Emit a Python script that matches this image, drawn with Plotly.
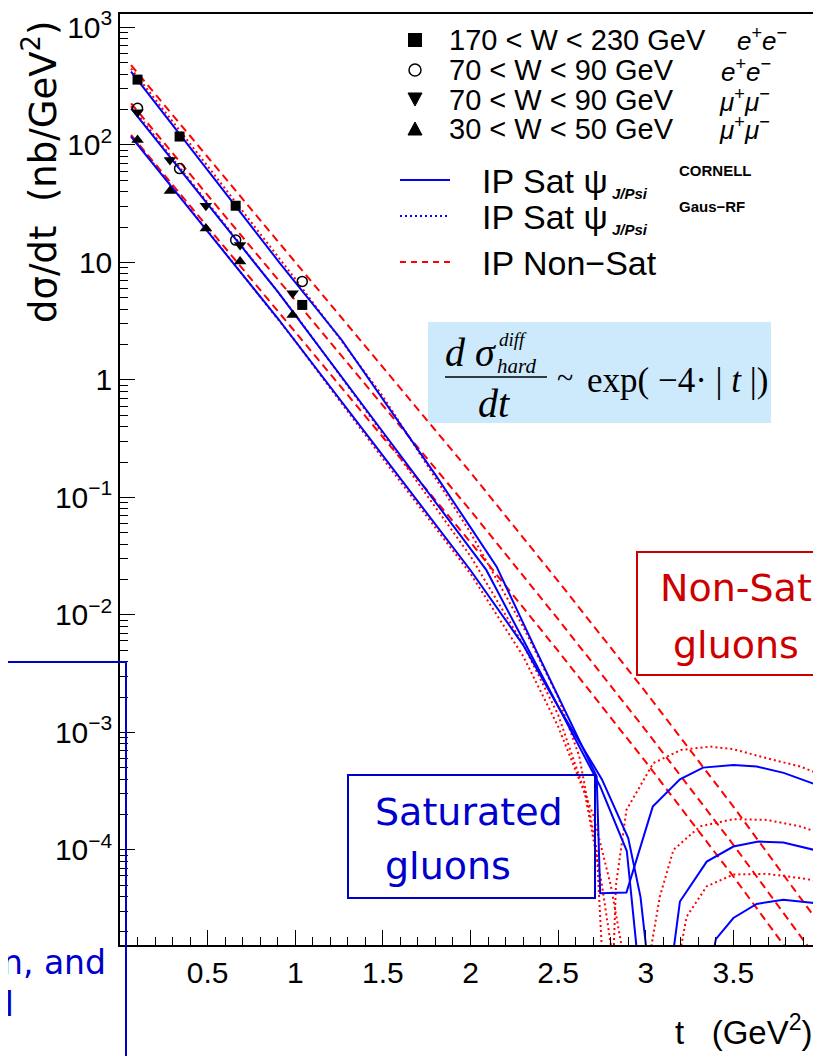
import plotly.graph_objects as go

# ---------------- data ----------------
# measured points (t in GeV^2, dsigma/dt in nb/GeV^2)
t_sq = [0.1, 0.34, 0.66, 1.04]
y_sq = [360, 118, 30.4, 4.35]
t_circ = [0.1, 0.34, 0.66, 1.04]
y_circ = [205, 63, 15.5, 6.9]
t_dtri = [0.1, 0.285, 0.49, 0.685, 0.985]
y_dtri = [190, 74.5, 30.4, 14.1, 5.47]
t_utri = [0.1, 0.285, 0.49, 0.685, 0.985]
y_utri = [110, 40.6, 19.5, 10.2, 3.57]

# IP Non-Sat (red dashed)
t_ns = [0.063, 0.5, 1.0, 1.5, 2.0, 2.5, 3.0, 3.5, 4.0]
y_ns_hi = [478.6, 79.07, 10.07, 1.282, 0.1633, 0.01941, 0.002203, 0.0002333, 0.00002249]
y_ns_mid = [226.5, 37.41, 4.764, 0.6067, 0.07727, 0.009183, 0.001042, 0.0001104, 0.00001064]
y_ns_lo = [121.6, 20.09, 2.559, 0.3258, 0.04150, 0.004932, 0.0005598, 0.00005929, 0.000005715]

# IP Sat, CORNELL wave function (blue solid)
t_cor_hi = [0.063, 0.5, 0.913, 1.265, 1.5, 1.807, 2.0, 2.149, 2.368, 2.48, 2.72, 2.74, 2.89,
            3.04, 3.195, 3.327, 3.5, 3.633, 3.787, 4.0]
y_cor_hi = [420.7, 61.66, 9.840, 2.188, 0.6855, 0.1503, 0.05559, 0.02576, 0.005212, 0.002344,
            0.0004207, 0.00004266, 0.00004335, 0.0002333, 0.0003981, 0.0005012, 0.0005284,
            0.0005117, 0.0004519, 0.0003467]
t_cor_mid = [0.063, 0.5, 0.9, 1.5, 2.0, 2.09, 2.3, 2.48, 2.74, 2.892, 3.04, 3.195, 3.348, 3.5,
             3.643, 3.785, 4.0]
y_cor_mid = [205.1, 31.41, 5.636, 0.3606, 0.03648, 0.02415, 0.006166, 0.001905, 0.0003467,
             0.00009772, 6.31e-7, 0.00003631, 0.00007943, 0.0001067, 0.0001175, 0.0001153,
             0.00009683]
t_cor_lo = [0.063, 0.5, 0.9, 1.5, 2.0, 2.3, 2.5, 2.75, 2.9, 2.97, 3.15, 3.4, 3.5, 3.633, 3.785,
            3.947, 4.0]
y_cor_lo = [117.8, 18.32, 3.350, 0.2265, 0.02399, 0.005559, 0.00166, 0.0003981, 0.0001259,
            0.00003981, 1.585e-7, 0.00001738, 0.0000263, 0.00003467, 0.00003758, 0.00003548,
            0.00003467]

# IP Sat, Gaus-RF wave function (dotted)
t_gau_hi = [0.063, 0.5, 1.0, 1.5, 2.0, 2.3, 2.5, 2.62, 2.72, 2.79, 2.83, 2.89, 3.043, 3.2,
            3.367, 3.5, 3.69, 3.88, 4.0]
y_gau_hi = [446.7, 66.07, 7.244, 0.7244, 0.05012, 0.007943, 0.001995, 0.000631, 0.0001, 1e-6,
            0.00005012, 0.0002188, 0.000547, 0.0007079, 0.0007568, 0.0007194, 0.0006026,
            0.0005129, 0.0004365]
t_gau_mid = [0.063, 0.5, 1.0, 1.5, 2.0, 2.3, 2.5, 2.65, 2.75, 2.85, 2.93, 3.0, 3.08, 3.158,
             3.31, 3.5, 3.69, 3.88, 4.0]
y_gau_mid = [213.8, 32.36, 3.631, 0.3467, 0.03162, 0.005623, 0.001413, 0.0003162, 0.00005012,
             0.000005012, 3.162e-7, 0.000007943, 0.00003981, 0.0001, 0.0001585, 0.0001824,
             0.0001799, 0.0001585, 0.000138]
t_gau_lo = [0.063, 0.5, 1.0, 1.5, 2.0, 2.3, 2.5, 2.7, 2.8, 2.92, 3.05, 3.18, 3.233, 3.348, 3.5,
            3.69, 3.88, 4.0]
y_gau_lo = [120.2, 18.62, 2.138, 0.2138, 0.02239, 0.004467, 0.001122, 0.0001995, 0.00005012,
            0.000005012, 3.162e-7, 0.00001, 0.00002692, 0.00004898, 0.00006166, 0.00006252,
            0.00005754, 0.0000537]

x_tick_vals = [0.5, 1, 1.5, 2, 2.5, 3, 3.5, 4]
x_tick_text = ["0.5", "1", "1.5", "2", "2.5", "3", "3.5", "4"]
y_tick_vals = [1e-4, 1e-3, 1e-2, 1e-1, 1, 10, 100, 1000]
y_tick_text = ["10<sup>−4</sup>", "10<sup>−3</sup>", "10<sup>−2</sup>", "10<sup>−1</sup>",
               "1", "10", "10<sup>2</sup>", "10<sup>3</sup>"]

# ---------------- figure ----------------
# the page body has an 8px margin: the figure is made 8px smaller and all
# positions below are given in window pixels
OFF = 8
WIN_W, WIN_H = 821, 1056
L, R, T, B = 120, 821, 14, 945   # plot frame in window pixels


def px(x):
    return (x - L) / (R - L)


def py(y):
    return (B - y) / (B - T)


BLUE = "#0000ff"
RED = "#ff0000"
fig = go.Figure()

for yy in (y_ns_hi, y_ns_mid, y_ns_lo):
    fig.add_trace(go.Scatter(x=t_ns, y=yy, mode="lines",
                             line=dict(color=RED, width=2, dash="8px,5px")))
for tt, yy in ((t_gau_hi, y_gau_hi), (t_gau_mid, y_gau_mid), (t_gau_lo, y_gau_lo)):
    fig.add_trace(go.Scatter(x=tt, y=yy, mode="lines",
                             line=dict(color=RED, width=2, dash="2px,3px")))
for tt, yy in ((t_cor_hi, y_cor_hi), (t_cor_mid, y_cor_mid), (t_cor_lo, y_cor_lo)):
    fig.add_trace(go.Scatter(x=tt, y=yy, mode="lines",
                             line=dict(color=BLUE, width=2)))

fig.add_trace(go.Scatter(x=t_sq, y=y_sq, mode="markers",
                         marker=dict(symbol="square", size=10, color="black")))
fig.add_trace(go.Scatter(x=t_circ, y=y_circ, mode="markers",
                         marker=dict(symbol="circle-open", size=10, color="black",
                                     line=dict(width=1.5, color="black"))))
fig.add_trace(go.Scatter(x=t_dtri, y=y_dtri, mode="markers",
                         marker=dict(symbol="triangle-down", size=11, color="black")))
fig.add_trace(go.Scatter(x=t_utri, y=y_utri, mode="markers",
                         marker=dict(symbol="triangle-up", size=11, color="black")))

fig.update_layout(
    width=WIN_W - OFF, height=WIN_H - OFF,
    margin=dict(l=L - OFF, r=WIN_W - R, t=T - OFF, b=WIN_H - B, autoexpand=False),
    plot_bgcolor="white", paper_bgcolor="white",
    showlegend=False,
    font=dict(family="Liberation Sans", color="black"),
    xaxis=dict(range=[0, 4.0], showgrid=False, zeroline=False, showline=True,
               linecolor="black", linewidth=1.5, mirror=True,
               ticks="inside", ticklen=15, tickwidth=1.2, tickcolor="black",
               tickvals=x_tick_vals, ticktext=x_tick_text, ticklabeloverflow="allow",
               tickfont=dict(size=30, family="Liberation Sans"),
               minor=dict(tickmode="linear", tick0=0, dtick=0.1, ticks="inside",
                          ticklen=8, tickwidth=1, tickcolor="black")),
    yaxis=dict(type="log", range=[-4.81, 3.115], showgrid=False, zeroline=False,
               showline=True, linecolor="black", linewidth=1.5, mirror=True,
               ticks="inside", ticklen=15, tickwidth=1.2, tickcolor="black",
               tickvals=y_tick_vals, ticktext=y_tick_text, ticklabeloverflow="allow",
               tickfont=dict(size=30, family="Liberation Sans"),
               minor=dict(dtick="D1", ticks="inside",
                          ticklen=8, tickwidth=1, tickcolor="black")),
)

shapes = []
annots = []


def text(x, y, s, size, color="black", xanchor="left", family="Liberation Sans",
         angle=0):
    annots.append(dict(x=px(x), y=py(y), xref="paper", yref="paper", text=s,
                       showarrow=False, xanchor=xanchor, yanchor="middle",
                       textangle=angle,
                       font=dict(size=size, color=color, family=family)))


def rect(x0, y0, x1, y1, line=None, fill=None, width=2, layer="above"):
    shapes.append(dict(type="rect", xref="paper", yref="paper",
                       x0=px(x0), x1=px(x1), y0=py(y1), y1=py(y0),
                       line=dict(color=line or "rgba(0,0,0,0)", width=width if line else 0),
                       fillcolor=fill or "rgba(0,0,0,0)", layer=layer))


def hline(x0, x1, y, color, dash="solid", width=2):
    shapes.append(dict(type="line", xref="paper", yref="paper",
                       x0=px(x0), x1=px(x1), y0=py(y), y1=py(y),
                       line=dict(color=color, width=width, dash=dash)))


def path(pts, fill):
    d = "M " + " L ".join(f"{px(a):.5f},{py(b):.5f}" for a, b in pts) + " Z"
    shapes.append(dict(type="path", xref="paper", yref="paper", path=d,
                       fillcolor=fill, line=dict(color="black", width=1)))


# axis titles
text(40, 172, "dσ/dt  (nb/GeV<sup>2</sup>)", 37, angle=-90, xanchor="center",
     family="DejaVu Sans")
text(815, 1030, "t&nbsp;&nbsp;&nbsp;(GeV<sup>2</sup>)", 33, xanchor="right")

# legend (markers)
rect(408, 33, 422, 47, fill="black", width=0)
shapes.append(dict(type="circle", xref="paper", yref="paper",
                   x0=px(409), x1=px(421), y0=py(76), y1=py(64),
                   line=dict(color="black", width=1.5)))
path([(408, 93), (422, 93), (415, 106)], "black")
path([(408, 135), (422, 135), (415, 122)], "black")
text(447, 40, "170 &lt; W &lt; 230 GeV", 29)
text(447, 70, "70 &lt; W &lt; 90 GeV", 29)
text(447, 100, "70 &lt; W &lt; 90 GeV", 29)
text(447, 129, "30 &lt; W &lt; 50 GeV", 29)
text(735, 40, "<i>e</i><sup>+</sup><i>e</i><sup>−</sup>", 26)
text(719, 70, "<i>e</i><sup>+</sup><i>e</i><sup>−</sup>", 26)
text(717, 100, "<i>μ</i><sup>+</sup><i>μ</i><sup>−</sup>", 26)
text(717, 129, "<i>μ</i><sup>+</sup><i>μ</i><sup>−</sup>", 26)

# legend (lines)
hline(400, 450, 180, BLUE)
hline(400, 450, 216, BLUE, dash="2px,3px")
hline(400, 450, 262, RED, dash="6px,5px")
text(480, 181, "IP Sat ψ", 34)
text(610, 193, "<b><i>J/Psi</i></b>", 15)
text(677, 170, "<b>CORNELL</b>", 15)
text(480, 217, "IP Sat ψ", 34)
text(610, 229, "<b><i>J/Psi</i></b>", 15)
text(677, 206, "<b>Gaus−RF</b>", 15)
text(480, 263, "IP Non−Sat", 34)

# formula box
rect(428, 322, 771, 423, fill="#cdeafc", layer="below")
SER = "Liberation Serif"
text(471, 352, "<i>d σ</i>", 40, xanchor="center", family=SER)
text(497, 339, "<i>diff</i>", 19, family=SER)
text(495, 366, "<i>hard</i>", 21, family=SER)
hline(445, 547, 377, "black", width=1.5)
text(494, 403, "<i>dt</i>", 40, xanchor="center", family=SER)
text(565, 377, "~", 30, xanchor="center", family=SER)
text(585, 380, "exp( −4· | <i>t</i> |)", 35, family=SER)

# annotation boxes
SAT = "#0000cc"
NS = "#cc0000"
rect(348, 775, 595, 898, line=SAT, width=2)
text(373, 812, "Saturated", 38, color=SAT, family="DejaVu Sans")
text(383, 866, "gluons", 38, color=SAT, family="DejaVu Sans")
rect(637, 552, 840, 675, line=NS, width=2)
text(658, 588, "Non-Sat", 38, color=NS, family="DejaVu Sans")
text(671, 645, "gluons", 38, color=NS, family="DejaVu Sans")
rect(-60, 662, 126, 1120, line=SAT, width=2)
text(108, 962, "gluon saturation, and", 33, color=SAT, xanchor="right", family="DejaVu Sans")
text(16, 1004, "dipole model", 33, color=SAT, xanchor="right", family="DejaVu Sans")

fig.update_layout(shapes=shapes, annotations=annots)
fig.write_html("out.html")
